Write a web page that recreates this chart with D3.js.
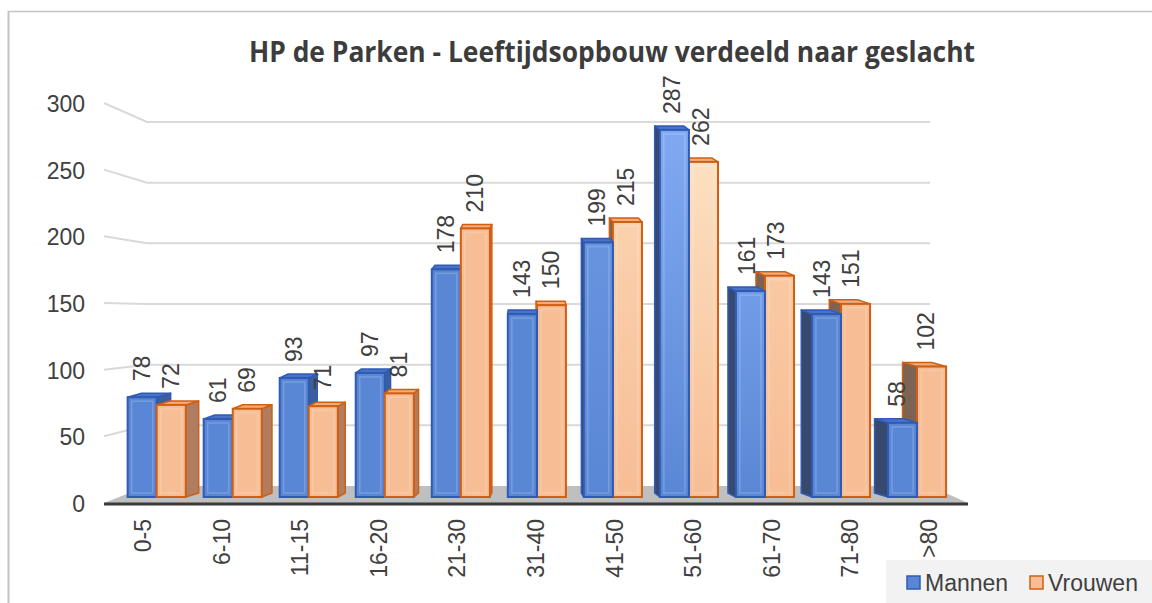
<!DOCTYPE html>
<html>
<head>
<meta charset="utf-8">
<script src="https://cdn.jsdelivr.net/npm/d3@7"></script>
<style>
  body { margin: 0; background: #fff; }
  svg { display: block; }
  text { font-family: "Liberation Sans", Arial, sans-serif; fill: #404040; }
</style>
</head>
<body>
<script>
// data
var categories = ["0-5", "6-10", "11-15", "16-20", "21-30", "31-40", "41-50", "51-60", "61-70", "71-80", ">80"];
var mannen = [78, 61, 93, 97, 178, 143, 199, 287, 161, 143, 58];
var vrouwen = [72, 69, 71, 81, 210, 150, 215, 262, 173, 151, 102];
var seriesNames = ["Mannen", "Vrouwen"];
var yTicks = [0, 50, 100, 150, 200, 250, 300];

var W = 1152, H = 603;
var VPX = 563;        // depth shrink centre for the bar front faces
var SHRINK = 0.968;
var SIDE_VP = 530, SIDE_K = 0.036, TOP_DY = -4;
var FS = "23px";

var svg = d3.select("body").append("svg").attr("width", W).attr("height", H);
var defs = svg.append("defs");

// chart frame
svg.append("line").attr("x1", 8).attr("x2", W).attr("y1", 11.5).attr("y2", 11.5)
  .attr("stroke", "#c4c4c4").attr("stroke-width", 1.5);
svg.append("line").attr("x1", 8.5).attr("x2", 8.5).attr("y1", 11).attr("y2", H)
  .attr("stroke", "#c4c4c4").attr("stroke-width", 2);

// title
svg.append("text")
  .attr("x", 612).attr("y", 62)
  .attr("text-anchor", "middle")
  .attr("textLength", 726).attr("lengthAdjust", "spacingAndGlyphs")
  .style("font-family", "'Open Sans', sans-serif")
  .style("font-weight", "bold").style("font-size", "28px")
  .style("fill", "#3c3c3c")
  .text("HP de Parken - Leeftijdsopbouw verdeeld naar geslacht");

// scales
var x0 = d3.scaleBand().domain(categories).range([104, 968]);
var x1 = d3.scaleBand().domain(seriesNames).range([9.25, x0.bandwidth() - 9.25]);
var yFront = d3.scaleLinear().domain([0, 300]).range([503, 103]);
var yBack = d3.scaleLinear().domain([0, 300]).range([486, 122]);
var yBar = d3.scaleLinear().domain([0, 300]).range([497, 497 - 1.279 * 300]);

function shrinkX(x) { return VPX + (x - VPX) * SHRINK; }

// side wall + back wall gridlines
var grid = svg.append("g");
yTicks.filter(function (t) { return t > 0; }).forEach(function (t) {
  grid.append("path")
    .attr("d", "M104," + yFront(t) + "L147," + yBack(t) + "L930," + yBack(t))
    .attr("fill", "none").attr("stroke", "#d9d9d9").attr("stroke-width", 2);
});

// floor
svg.append("path")
  .attr("d", "M104,503L147,486L930,486L968,503Z")
  .attr("fill", "#bfbfbf");
svg.append("line").attr("x1", 104).attr("x2", 968).attr("y1", 504).attr("y2", 504)
  .attr("stroke", "#3a3a3a").attr("stroke-width", 3);

// y axis labels
svg.append("g").selectAll("text").data(yTicks).enter().append("text")
  .attr("x", 85).attr("y", function (d) { return yFront(d) + 1; })
  .attr("text-anchor", "end").attr("dominant-baseline", "central")
  .style("font-size", FS)
  .text(function (d) { return d; });

// category labels
svg.append("g").selectAll("text").data(categories).enter().append("text")
  .attr("transform", function (d) {
    return "translate(" + (x0(d) + x0.bandwidth() / 2) + ",519) rotate(-90)";
  })
  .attr("text-anchor", "end").attr("dominant-baseline", "central")
  .style("font-size", FS)
  .text(function (d) { return d; });

// bar boxes
var styles = {
  Mannen: { front: "#5a87d5", light: "#86aef6", stroke: "#2f5bb5", top: "#4a72c6", sideR: "#3d5e9e", sideL: "#374a6e" },
  Vrouwen: { front: "#f7bd95", light: "#fde4c6", stroke: "#cf5f12", top: "#f4aa7a", sideR: "#b07d62", sideL: "#7d6353" }
};

var bars = [];
categories.forEach(function (c, i) {
  [mannen[i], vrouwen[i]].forEach(function (v, j) {
    var s = seriesNames[j];
    var xl = shrinkX(x0(c) + x1(s));
    var xr = shrinkX(x0(c) + x1(s) + x1.bandwidth());
    var cx = (xl + xr) / 2;
    bars.push({ cat: c, series: s, value: v, xl: xl, xr: xr, cx: cx, dx: SIDE_K * (SIDE_VP - cx), id: "g" + i + "_" + j });
  });
});
// paint the bars far from the centre first
bars.sort(function (a, b) { return Math.abs(b.cx - SIDE_VP) - Math.abs(a.cx - SIDE_VP); });

bars.forEach(function (b) {
  var st = styles[b.series];
  var f = Math.max(0, 1 - Math.abs(b.cx - 690) / 130);
  var grad = defs.append("linearGradient").attr("id", b.id)
    .attr("x1", 0).attr("x2", 0).attr("y1", 0).attr("y2", 1);
  grad.append("stop").attr("offset", "0%").attr("stop-color", d3.interpolateRgb(st.front, st.light)(f));
  grad.append("stop").attr("offset", "100%").attr("stop-color", st.front);
});

var barG = svg.append("g");
bars.forEach(function (b) {
  var st = styles[b.series];
  var yt = yBar(b.value), yb = yBar(0);
  var dx = b.dx, dy = TOP_DY;
  var g = barG.append("g");
  var side;
  if (dx >= 0) {
    side = [[b.xr, yt], [b.xr + dx, yt + dy], [b.xr + dx, yb + dy], [b.xr, yb]];
  } else {
    side = [[b.xl, yt], [b.xl + dx, yt + dy], [b.xl + dx, yb + dy], [b.xl, yb]];
  }
  g.append("path")
    .attr("d", "M" + side.join("L") + "Z")
    .attr("fill", dx >= 0 ? st.sideR : st.sideL)
    .attr("stroke", st.stroke).attr("stroke-width", 1.5).attr("stroke-linejoin", "round");
  var top = [[b.xl, yt], [b.xr, yt], [b.xr + dx, yt + dy], [b.xl + dx, yt + dy]];
  g.append("path")
    .attr("d", "M" + top.join("L") + "Z")
    .attr("fill", st.top)
    .attr("stroke", st.stroke).attr("stroke-width", 1.5).attr("stroke-linejoin", "round");
  g.append("rect")
    .attr("x", b.xl).attr("y", yt)
    .attr("width", b.xr - b.xl).attr("height", yb - yt)
    .attr("fill", "url(#" + b.id + ")")
    .attr("stroke", st.stroke).attr("stroke-width", 2);
  // bevel
  g.append("rect")
    .attr("x", b.xl + 4).attr("y", yt + 4)
    .attr("width", b.xr - b.xl - 8).attr("height", Math.max(0, yb - yt - 8))
    .attr("fill", "none")
    .attr("stroke", "#ffffff").attr("stroke-opacity", 0.18).attr("stroke-width", 1.5);
});

// value labels
svg.append("g").selectAll("text").data(bars).enter().append("text")
  .attr("transform", function (b) {
    var x = b.cx + Math.min(0, b.dx) * 0.4;
    var y = yBar(b.value) + TOP_DY - 12;
    return "translate(" + x + "," + y + ") rotate(-90)";
  })
  .attr("text-anchor", "start").attr("dominant-baseline", "central")
  .style("font-size", FS)
  .text(function (b) { return b.value; });

// legend
var leg = svg.append("g");
leg.append("rect").attr("x", 886).attr("y", 560).attr("width", W - 886).attr("height", H - 560)
  .attr("fill", "#f2f2f2");
var legX = [907, 1030];
seriesNames.forEach(function (s, i) {
  leg.append("rect")
    .attr("x", legX[i]).attr("y", 576).attr("width", 13).attr("height", 13)
    .attr("fill", styles[s].front).attr("stroke", styles[s].stroke).attr("stroke-width", 1.5);
  leg.append("text")
    .attr("x", legX[i] + 18).attr("y", 583)
    .attr("dominant-baseline", "central")
    .style("font-size", FS)
    .text(s);
});
</script>
</body>
</html>
